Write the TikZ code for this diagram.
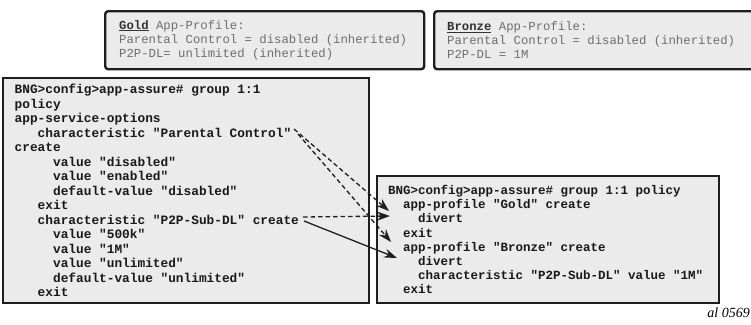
\documentclass[tikz,border=0pt]{standalone}
\usepackage{fontspec}
\setmainfont{Liberation Serif}
\setmonofont{Liberation Mono}
\usetikzlibrary{arrows.meta}
\usetikzlibrary{positioning}
\definecolor{boxfill}{HTML}{EBEBEB}
\definecolor{boxline}{HTML}{1E1E1E}
\definecolor{inhgray}{HTML}{6E6E6E}
\newcommand{\ind}[1]{\hspace*{#1\fontdimen2\font}}
\newcommand{\fixsp}{\spaceskip=\fontdimen2\font\xspaceskip=\fontdimen2\font\relax}
\tikzset{cfgbox/.style = {draw=boxline, line width=2.4pt, fill=boxfill,
                          inner ysep=0pt, align=left, anchor=north west,
                          text=black!90, execute at begin node=\fixsp}}
\tikzset{profbox/.style = {cfgbox, rounded corners=3pt, text=inhgray,
                           font=\ttfamily\fontsize{12.3}{14.2}\selectfont}}
\tikzset{link/.style = {-{Stealth[length=13pt,width=9pt]}, line width=1.3pt,
                        draw=boxline}}
\tikzset{dlink/.style = {link, dash pattern=on 4.5pt off 3pt}}

\begin{document}
\begin{tikzpicture}[x=1pt, y=-1pt]
      \useasboundingbox (0,0) rectangle (751,324);
      \node [profbox, inner xsep=14pt, minimum width=319pt, minimum height=58pt,
             text width=291pt] (gold) at (104,10)
            {\textcolor{black!80}{\bfseries\underline{Gold}} App-Profile:\\
             Parental Control = disabled (inherited)\\
             P2P-DL= unlimited (inherited)};
      \node [profbox, inner xsep=13pt, minimum width=337pt, minimum height=58pt,
             text width=311pt] (bronze) at (433,10)
            {\textcolor{black!80}{\bfseries\underline{Bronze}} App-Profile:\\
             Parental Control = disabled (inherited)\\
             P2P-DL = 1M};
      \node [cfgbox, inner xsep=12pt, minimum width=366.5pt, minimum height=225pt,
             text width=342.5pt, font=\ttfamily\bfseries\fontsize{12.8}{14.5}\selectfont]
            (grp) at (1.5,77)
            {BNG>config>app-assure\# group 1:1\\
             policy\\
             app-service-options\\
             \ind{3}characteristic "Parental Control"\\
             create\\
             \ind{5}value "disabled"\\
             \ind{5}value "enabled"\\
             \ind{5}default-value "disabled"\\
             \ind{3}exit\\
             \ind{3}characteristic "P2P-Sub-DL" create\\
             \ind{5}value "500k"\\
             \ind{5}value "1M"\\
             \ind{5}value "unlimited"\\
             \ind{5}default-value "unlimited"\\
             \ind{3}exit};
      \node [cfgbox, inner xsep=11pt, minimum width=342pt, minimum height=127pt,
             text width=320pt, font=\ttfamily\bfseries\fontsize{12.5}{14.2}\selectfont]
            (pol) at (376,175)
            {BNG>config>app-assure\# group 1:1 policy\\
             \ind{2}app-profile "Gold" create\\
             \ind{4}divert\\
             \ind{2}exit\\
             \ind{2}app-profile "Bronze" create\\
             \ind{4}divert\\
             \ind{4}characteristic "P2P-Sub-DL" value "1M"\\
             \ind{2}exit};
      \node [anchor=east, inner sep=0pt, font=\itshape\fontsize{14}{16}\selectfont] (tag) at (750,313) {al 0569};
      \coordinate (parA) at (294,129);
      \coordinate (parB) at (298,134);
      \coordinate (subA) at (303,217);
      \coordinate (subB) at (304,221);
      \coordinate (goldA) at (389,211);
      \coordinate (goldB) at (390,216);
      \coordinate (bronzeA) at (391,242);
      \coordinate (bronzeB) at (397,258);
      \draw [dlink] (parA) -- (goldA);
      \draw [dlink] (parB) -- (bronzeA);
      \draw [dlink] (subA) -- (goldB);
      \draw [link] (subB) -- (bronzeB);
    \end{tikzpicture}
\end{document}
